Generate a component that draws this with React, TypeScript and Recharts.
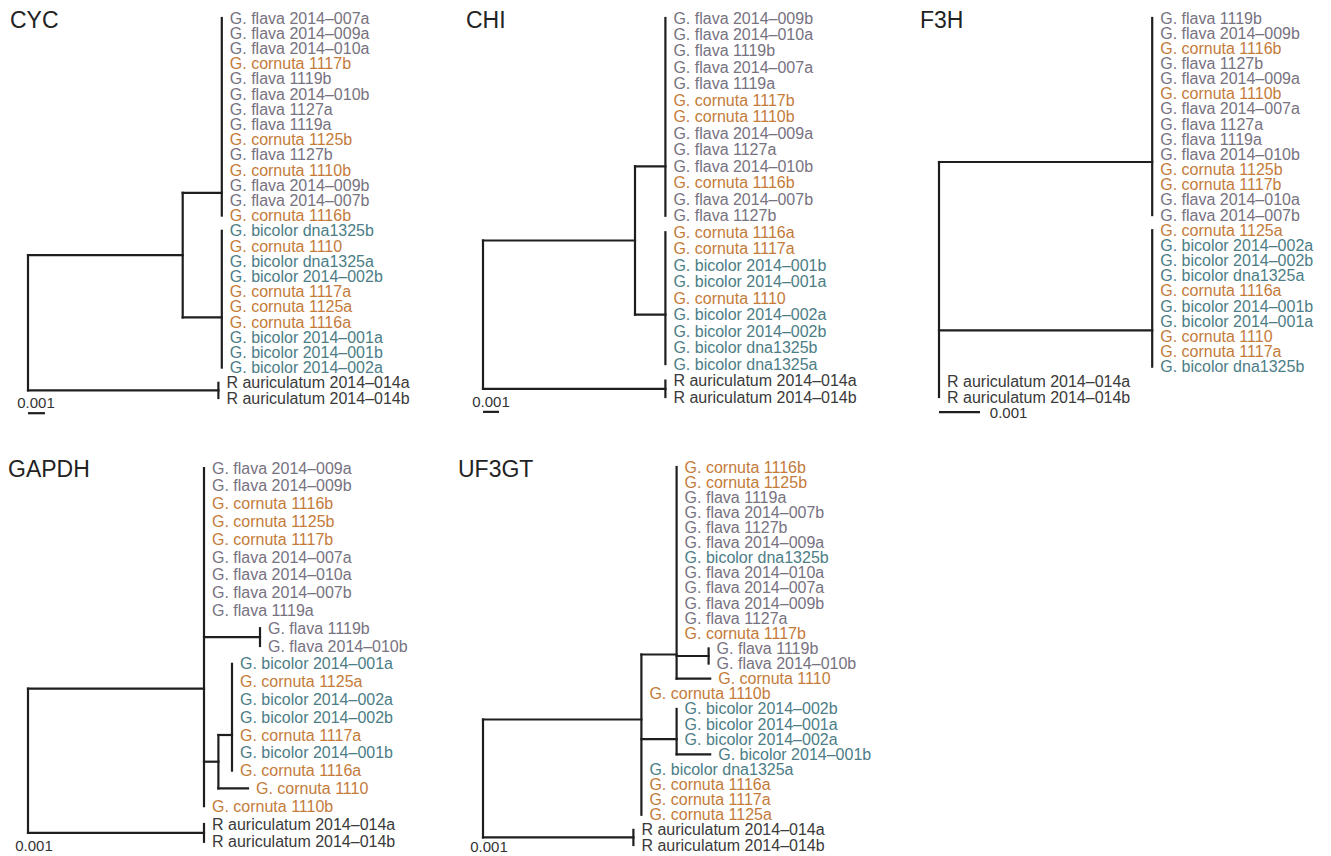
import React from "react";
import { ScatterChart, Scatter, XAxis, YAxis, ReferenceLine } from "recharts";

// branch depths are in units of 0.001 substitutions/site, leaf rows in order from the top
type Tip = { name: string; d: number };
type Clade = { d: number; at?: number; kids: TreeNode[] };
type TreeNode = Tip | Clade;

const tip = (name: string, d: number): Tip => ({ name, d });
const tips = (names: string[], d: number): Tip[] => names.map((n) => tip(n, d));
const clade = (d: number, kids: TreeNode[], at?: number): Clade => ({ d, kids, at });

const outgroup = ["R auriculatum 2014–014a", "R auriculatum 2014–014b"];

// CYC
const cycTop = [
  "G. flava 2014–007a", "G. flava 2014–009a", "G. flava 2014–010a", "G. cornuta 1117b",
  "G. flava 1119b", "G. flava 2014–010b", "G. flava 1127a", "G. flava 1119a",
  "G. cornuta 1125b", "G. flava 1127b", "G. cornuta 1110b", "G. flava 2014–009b",
  "G. flava 2014–007b", "G. cornuta 1116b",
];
const cycBottom = [
  "G. bicolor dna1325b", "G. cornuta 1110", "G. bicolor dna1325a", "G. bicolor 2014–002b",
  "G. cornuta 1117a", "G. cornuta 1125a", "G. cornuta 1116a", "G. bicolor 2014–001a",
  "G. bicolor 2014–001b", "G. bicolor 2014–002a",
];

// CHI
const chiTop = [
  "G. flava 2014–009b", "G. flava 2014–010a", "G. flava 1119b", "G. flava 2014–007a",
  "G. flava 1119a", "G. cornuta 1117b", "G. cornuta 1110b", "G. flava 2014–009a",
  "G. flava 1127a", "G. flava 2014–010b", "G. cornuta 1116b", "G. flava 2014–007b",
  "G. flava 1127b",
];
const chiBottom = [
  "G. cornuta 1116a", "G. cornuta 1117a", "G. bicolor 2014–001b", "G. bicolor 2014–001a",
  "G. cornuta 1110", "G. bicolor 2014–002a", "G. bicolor 2014–002b", "G. bicolor dna1325b",
  "G. bicolor dna1325a",
];

// F3H
const f3hTop = [
  "G. flava 1119b", "G. flava 2014–009b", "G. cornuta 1116b", "G. flava 1127b",
  "G. flava 2014–009a", "G. cornuta 1110b", "G. flava 2014–007a", "G. flava 1127a",
  "G. flava 1119a", "G. flava 2014–010b", "G. cornuta 1125b", "G. cornuta 1117b",
  "G. flava 2014–010a", "G. flava 2014–007b",
];
const f3hBottom = [
  "G. cornuta 1125a", "G. bicolor 2014–002a", "G. bicolor 2014–002b", "G. bicolor dna1325a",
  "G. cornuta 1116a", "G. bicolor 2014–001b", "G. bicolor 2014–001a", "G. cornuta 1110",
  "G. cornuta 1117a", "G. bicolor dna1325b",
];

// GAPDH
const gapdhMain = [
  "G. flava 2014–009a", "G. flava 2014–009b", "G. cornuta 1116b", "G. cornuta 1125b",
  "G. cornuta 1117b", "G. flava 2014–007a", "G. flava 2014–010a", "G. flava 2014–007b",
  "G. flava 1119a",
];
const gapdhPair = ["G. flava 1119b", "G. flava 2014–010b"];
const gapdhBicolor = [
  "G. bicolor 2014–001a", "G. cornuta 1125a", "G. bicolor 2014–002a", "G. bicolor 2014–002b",
  "G. cornuta 1117a", "G. bicolor 2014–001b", "G. cornuta 1116a",
];

// UF3GT
const uf3gtMain = [
  "G. cornuta 1116b", "G. cornuta 1125b", "G. flava 1119a", "G. flava 2014–007b",
  "G. flava 1127b", "G. flava 2014–009a", "G. bicolor dna1325b", "G. flava 2014–010a",
  "G. flava 2014–007a", "G. flava 2014–009b", "G. flava 1127a", "G. cornuta 1117b",
];
const uf3gtPair = ["G. flava 1119b", "G. flava 2014–010b"];
const uf3gtBicolor = ["G. bicolor 2014–002b", "G. bicolor 2014–001a", "G. bicolor 2014–002a"];
const uf3gtTail = ["G. bicolor dna1325a", "G. cornuta 1116a", "G. cornuta 1117a", "G. cornuta 1125a"];

const cycTree = clade(0, [
  clade(9.1, [clade(11.4, tips(cycTop, 11.4), 11.5), clade(11.4, tips(cycBottom, 11.4), 19.7)]),
  clade(11.2, tips(outgroup, 11.2)),
]);

const chiTree = clade(0, [
  clade(9.5, [clade(11.4, tips(chiTop, 11.4), 9.0), clade(11.4, tips(chiBottom, 11.4), 18.0)]),
  clade(11.4, tips(outgroup, 11.4)),
]);

const f3hTree = clade(0, [
  clade(5.2, tips(f3hTop, 5.2), 9.5),
  clade(5.2, tips(f3hBottom, 5.2), 20.6),
  ...tips(outgroup, 0),
]);

const gapdhTree = clade(0, [
  clade(
    11.0,
    [
      ...tips(gapdhMain, 11.0),
      clade(14.5, tips(gapdhPair, 14.5)),
      clade(11.9, [clade(12.75, tips(gapdhBicolor, 12.75), 15.0), tip("G. cornuta 1110", 13.75)]),
      tip("G. cornuta 1110b", 11.0),
    ],
    12.4
  ),
  clade(11.0, tips(outgroup, 11.0)),
]);

const uf3gtTree = clade(0, [
  clade(
    9.9,
    [
      clade(
        12.1,
        [...tips(uf3gtMain, 12.1), clade(14.1, tips(uf3gtPair, 14.1)), tip("G. cornuta 1110", 14.2)],
        12.4
      ),
      tip("G. cornuta 1110b", 9.9),
      clade(12.1, [...tips(uf3gtBicolor, 12.1), tip("G. bicolor 2014–001b", 14.2)], 18.0),
      ...tips(uf3gtTail, 9.9),
    ],
    16.7
  ),
  clade(9.4, tips(outgroup, 9.4)),
]);

const speciesColors: Record<string, string> = {
  "G. flava": "#77727f",
  "G. cornuta": "#c47b3a",
  "G. bicolor": "#4c7d86",
  "R auriculatum": "#3a3a3a",
};

const colorOf = (name: string) => {
  const key = Object.keys(speciesColors).find((k) => name.startsWith(k));
  return key ? speciesColors[key] : "#333";
};

const FONT = "'Liberation Sans', Arial, Helvetica, sans-serif";

type Pt = { x: number; y: number };

function layoutTree(root: Clade) {
  const segments: [Pt, Pt][] = [];
  const leaves: { x: number; y: number; name: string }[] = [];
  let row = 0;
  const walk = (node: TreeNode, parentD: number | null): number => {
    let y: number;
    if ("name" in node) {
      y = row++;
      leaves.push({ x: node.d, y, name: node.name });
    } else {
      const ys = node.kids.map((k) => walk(k, node.d));
      segments.push([
        { x: node.d, y: Math.min(...ys) },
        { x: node.d, y: Math.max(...ys) },
      ]);
      y = node.at ?? (ys[0] + ys[ys.length - 1]) / 2;
    }
    if (parentD !== null && node.d > parentD) {
      segments.push([
        { x: parentD, y },
        { x: node.d, y },
      ]);
    }
    return y;
  };
  walk(root, null);
  return { segments, leaves };
}

type Frame = {
  left: number;
  top: number;
  width: number;
  height: number;
  rootX: number;
  unitPx: number;
  firstY: number;
  rowPx: number;
};

type ScaleSpec = { bar: boolean; barRow: number; labelX: number; labelRow: number; anchor: "middle" | "start" };

const LeafLabel = (props: any) => {
  const { cx, cy, payload } = props;
  return (
    <text x={cx + 8} y={cy + 5.5} fontSize={16} fontFamily={FONT} fill={colorOf(payload.name)}>
      {payload.name}
    </text>
  );
};

const TreePanel = ({ tree, frame, scale }: { tree: Clade; frame: Frame; scale: ScaleSpec }) => {
  const { segments, leaves } = layoutTree(tree);
  const xMin = (frame.left - frame.rootX) / frame.unitPx;
  const xMax = (frame.left + frame.width - frame.rootX) / frame.unitPx;
  const yMin = (frame.top - frame.firstY) / frame.rowPx;
  const yMax = (frame.top + frame.height - frame.firstY) / frame.rowPx;
  const scaleText = [{ x: scale.labelX, y: scale.labelRow, name: "0.001" }];

  return (
    <div style={{ position: "absolute", left: frame.left, top: frame.top }}>
      <ScatterChart
        width={frame.width}
        height={frame.height}
        margin={{ top: 0, right: 0, bottom: 0, left: 0 }}
      >
        <XAxis type="number" dataKey="x" domain={[xMin, xMax]} allowDataOverflow hide />
        <YAxis type="number" dataKey="y" domain={[yMin, yMax]} allowDataOverflow reversed hide />
        {segments.map((s, i) => (
          <ReferenceLine
            key={i}
            segment={s}
            stroke="#1e1e1e"
            strokeWidth={2.2}
            strokeLinecap="square"
            ifOverflow="visible"
          />
        ))}
        {scale.bar && (
          <ReferenceLine
            segment={[
              { x: 0, y: scale.barRow },
              { x: 1, y: scale.barRow },
            ]}
            stroke="#1e1e1e"
            strokeWidth={2.2}
            ifOverflow="visible"
          />
        )}
        <Scatter data={leaves} shape={LeafLabel} isAnimationActive={false} />
        <Scatter
          data={scaleText}
          isAnimationActive={false}
          shape={(p: any) => (
            <text
              x={p.cx}
              y={p.cy + 5.5}
              textAnchor={scale.anchor}
              fontSize={15}
              fontFamily={FONT}
              fill="#333"
            >
              {p.payload.name}
            </text>
          )}
        />
      </ScatterChart>
    </div>
  );
};

const titles = [
  { text: "CYC", x: 10, y: 28 },
  { text: "CHI", x: 466, y: 28 },
  { text: "F3H", x: 920, y: 28 },
  { text: "GAPDH", x: 8, y: 477 },
  { text: "UF3GT", x: 458, y: 477 },
];

export default function App() {
  return (
    <div
      style={{
        position: "absolute",
        left: 0,
        top: 0,
        width: 1331,
        height: 856,
        background: "#fff",
        overflow: "hidden",
      }}
    >
      <TreePanel
        tree={cycTree}
        frame={{ left: 0, top: 0, width: 445, height: 425, rootX: 28, unitPx: 17, firstY: 18, rowPx: 15.2 }}
        scale={{ bar: true, barRow: 26.0, labelX: 0.47, labelRow: 25.3, anchor: "middle" }}
      />
      <TreePanel
        tree={chiTree}
        frame={{ left: 445, top: 0, width: 445, height: 425, rootX: 483, unitPx: 16, firstY: 18, rowPx: 16.48 }}
        scale={{ bar: true, barRow: 23.9, labelX: 0.5, labelRow: 23.3, anchor: "middle" }}
      />
      <TreePanel
        tree={f3hTree}
        frame={{ left: 890, top: 0, width: 441, height: 425, rootX: 939, unitPx: 41, firstY: 18, rowPx: 15.16 }}
        scale={{ bar: true, barRow: 26.0, labelX: 1.24, labelRow: 26.05, anchor: "start" }}
      />
      <TreePanel
        tree={gapdhTree}
        frame={{ left: 0, top: 425, width: 450, height: 431, rootX: 28, unitPx: 16, firstY: 468, rowPx: 17.8 }}
        scale={{ bar: false, barRow: 0, labelX: 0.375, labelRow: 21.2, anchor: "middle" }}
      />
      <TreePanel
        tree={uf3gtTree}
        frame={{ left: 450, top: 425, width: 450, height: 431, rootX: 483, unitPx: 16, firstY: 467, rowPx: 15.12 }}
        scale={{ bar: false, barRow: 0, labelX: 0.375, labelRow: 25.1, anchor: "middle" }}
      />
      <svg
        width={1331}
        height={856}
        style={{ position: "absolute", left: 0, top: 0, pointerEvents: "none" }}
      >
        {titles.map((t) => (
          <text key={t.text} x={t.x} y={t.y} fontSize={23} fontFamily={FONT} fill="#222">
            {t.text}
          </text>
        ))}
      </svg>
    </div>
  );
}
